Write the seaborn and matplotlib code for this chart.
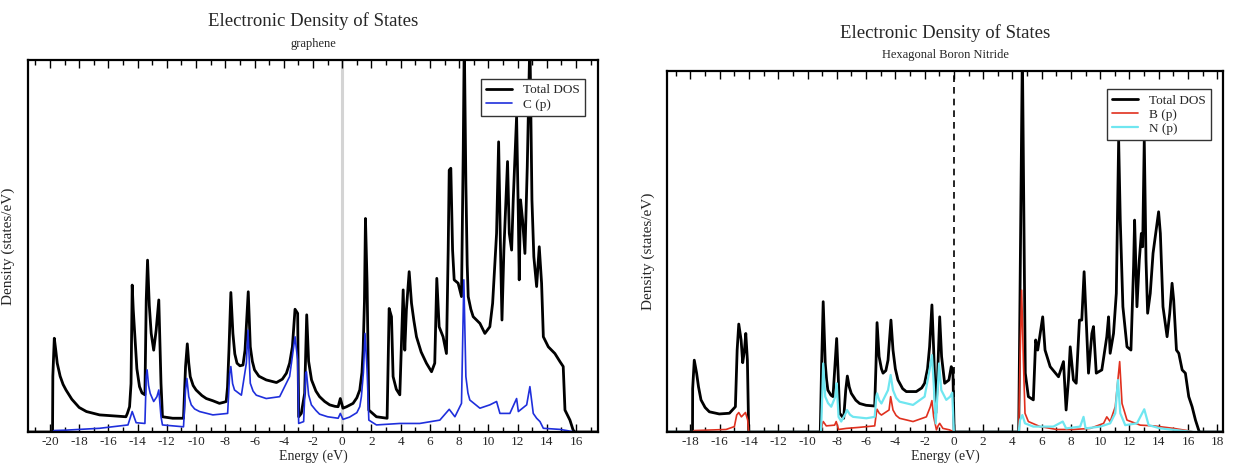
import numpy as np
import pandas as pd
import matplotlib
matplotlib.use("Agg")
import matplotlib.pyplot as plt
from matplotlib.ticker import MultipleLocator
import seaborn as sns

# ---- graphene: energy (eV) and density of states ----
gr_total_e = [-21.5, -19.82, -19.80, -19.7, -19.6, -19.5, -19.3, -19.1, -18.9, -18.5, -18.0, -17.5,
              -16.6, -15.5, -14.8, -14.7, -14.55, -14.45, -14.37, -14.3, -14.2, -14.05, -13.87,
              -13.7, -13.5, -13.41, -13.32, -13.2, -13.07, -12.9, -12.73, -12.55, -12.4, -12.3,
              -11.6, -10.86, -10.72, -10.6, -10.5, -10.4, -10.2, -10.0, -9.6, -9.3, -8.85, -8.4,
              -8.1, -7.94, -7.85, -7.75, -7.62, -7.48, -7.35, -7.2, -7.0, -6.79, -6.65, -6.52,
              -6.43, -6.29, -6.15, -6.0, -5.7, -5.2, -4.5, -4.1, -3.82, -3.6, -3.41, -3.23,
              -3.05, -2.98, -2.8, -2.57, -2.43, -2.3, -2.1, -1.8, -1.55, -1.2, -0.86, -0.5,
              -0.28, -0.13, 0.05, 0.3, 0.74, 1.0, 1.2, 1.35, 1.43, 1.52, 1.59, 1.70, 1.82, 2.34,
              3.07, 3.21, 3.37, 3.48, 3.7, 3.94, 4.05, 4.17, 4.28, 4.39, 4.58, 4.74, 4.9, 5.08,
              5.4, 5.76, 6.11, 6.33, 6.47, 6.63, 6.9, 7.13, 7.25, 7.32, 7.43, 7.55, 7.66, 7.93,
              8.16, 8.28, 8.35, 8.46, 8.55, 8.62, 8.8, 8.96, 9.42, 9.76, 10.1, 10.29, 10.56,
              10.7, 10.83, 10.93, 11.06, 11.31, 11.43, 11.59, 11.7, 11.93, 12.05, 12.11, 12.2,
              12.34, 12.5, 12.66, 12.84, 12.98, 13.11, 13.3, 13.48, 13.64, 13.76, 14.1, 14.55,
              14.9, 15.12, 15.24, 15.58, 15.8, 15.92, 17.5]
gr_total_dos = [0.0, 0.0, 1.5, 2.52, 2.2, 1.85, 1.5, 1.28, 1.13, 0.88, 0.66, 0.55,
                0.46, 0.43, 0.41, 0.5, 0.68, 1.3, 3.95, 3.3, 2.65, 1.7, 1.22,
                1.05, 1.0, 3.55, 4.62, 3.4, 2.65, 2.2, 2.74, 3.55, 1.31, 0.41,
                0.37, 0.37, 1.76, 2.37, 1.85, 1.49, 1.25, 1.13, 0.98, 0.9, 0.84, 0.77,
                0.8, 0.82, 1.2, 2.2, 3.75, 2.65, 2.1, 1.85, 1.78, 1.8, 2.2, 3.1,
                3.77, 2.29, 1.9, 1.67, 1.5, 1.4, 1.33, 1.42, 1.58, 1.85, 2.29, 3.3,
                3.19, 0.41, 0.5, 1.04, 3.15, 1.9, 1.4, 1.1, 0.95, 0.82, 0.73, 0.69,
                0.68, 0.9, 0.64, 0.68, 0.77, 0.92, 1.13, 1.6, 2.2, 3.5, 5.74, 4.0, 0.59, 0.41,
                0.37, 3.32, 3.1, 1.49, 1.15, 1.0, 2.38, 3.82, 2.2, 3.28, 4.31, 3.46, 3.0, 2.56,
                2.15, 1.85, 1.62, 1.85, 4.13, 2.83, 2.56, 2.11, 4.89, 7.04, 7.09, 4.89, 4.09, 4.0,
                3.64, 7.58, 10.6, 6.68, 4.5, 3.64, 3.3, 3.1, 2.92, 2.65, 2.83, 3.46, 5.34,
                7.8, 4.89, 3.01, 4.89, 7.27, 5.34, 4.89, 6.24, 8.48, 5.79, 4.09, 6.24,
                5.7, 4.8, 7.13, 10.6, 6.24, 4.71, 3.91, 4.98, 4.0, 2.56, 2.29, 2.11,
                1.89, 1.76, 0.59, 0.32, 0.05, 0.0, 0.0]

gr_cp_e = [-21.5, -19.82, -19.7, -18.9, -16.6, -14.66, -14.37, -14.1, -13.5, -13.41, -13.35,
           -13.25, -13.14, -12.9, -12.68, -12.55, -12.4, -12.3, -10.86, -10.72, -10.63, -10.5,
           -10.33, -10.1, -9.76, -8.85, -7.84, -7.7, -7.62, -7.5, -7.37, -6.9, -6.56, -6.45,
           -6.29, -6.1, -5.88, -5.2, -4.28, -3.6, -3.23, -3.05, -2.98, -2.64, -2.5, -2.45, -2.3,
           -2.11, -1.8, -1.55, -1.0, -0.28, -0.13, 0.05, 0.5, 1.0, 1.2, 1.31, 1.45, 1.56, 1.7,
           1.82, 2.34, 3.94, 5.3, 6.68, 7.32, 7.71, 8.16, 8.32, 8.46, 8.6, 8.73, 9.42, 10.1,
           10.56, 10.79, 11.47, 11.93, 12.05, 12.62, 12.84, 13.07, 13.3, 13.53, 13.76, 14.9,
           15.35, 15.92, 17.5]
gr_cp_dos = [0.0, 0.0, 0.04, 0.05, 0.1, 0.19, 0.55, 0.25, 0.23, 1.49, 1.67,
             1.25, 1.04, 0.82, 0.95, 1.13, 0.41, 0.19, 0.14, 1.13, 1.44, 0.95,
             0.73, 0.62, 0.55, 0.46, 0.5, 1.58, 1.76, 1.3, 1.13, 0.99, 1.85, 2.74,
             1.31, 1.1, 0.99, 0.9, 0.95, 1.49, 2.56, 1.94, 0.23, 0.28, 1.58, 1.62, 1.0,
             0.73, 0.58, 0.48, 0.41, 0.37, 0.5, 0.34, 0.4, 0.52, 0.68, 0.95, 1.6, 2.65, 1.67,
             0.32, 0.19, 0.23, 0.23, 0.32, 0.61, 0.41, 0.77, 4.09, 1.49, 1.05, 0.86, 0.64, 0.73,
             0.82, 0.5, 0.5, 0.9, 0.55, 0.73, 1.22, 0.5, 0.37, 0.28, 0.1, 0.07,
             0.04, 0.0, 0.0]

# ---- hexagonal boron nitride ----
bn_total_e = [-19.6, -17.86, -17.85, -17.74, -17.58, -17.45, -17.28, -17.0, -16.71, -16.03, -15.34,
              -14.93, -14.81, -14.7, -14.54, -14.43, -14.31, -14.22, -14.11, -14.02, -9.13, -9.04,
              -8.93, -8.79, -8.7, -8.61, -8.4, -8.26, -8.1, -8.01, -7.9, -7.81, -7.53, -7.39,
              -7.28, -7.15, -7.01, -6.7, -6.44, -6.0, -5.41, -5.32, -5.25, -5.11, -4.95, -4.84,
              -4.65, -4.5, -4.3, -4.16, -4.0, -3.82, -3.5, -3.25, -2.57, -2.2, -2.0, -1.8, -1.66,
              -1.5, -1.38, -1.24, -1.13, -0.97, -0.84, -0.63, -0.34, -0.18, -0.07, 0.02, 4.43,
              4.52, 4.68, 4.79, 4.88, 5.09, 5.43, 5.59, 5.73, 6.07, 6.23, 6.58, 7.15, 7.49, 7.67,
              7.83, 7.95, 8.17, 8.36, 8.58, 8.74, 8.9, 9.04, 9.2, 9.43, 9.54, 9.73, 10.11, 10.45,
              10.57, 10.68, 10.91, 11.1, 11.26, 11.37, 11.55, 11.83, 12.1, 12.28, 12.35, 12.51,
              12.67, 12.81, 12.9, 13.01, 13.13, 13.24, 13.42, 13.61, 13.99, 14.11, 14.29, 14.57,
              14.75, 14.91, 15.02, 15.21, 15.37, 15.6, 15.82, 16.05, 16.28, 16.51, 16.74, 16.8,
              18.4]
bn_total_dos = [0.0, 0.0, 1.2, 1.99, 1.63, 1.25, 0.89, 0.68, 0.56, 0.5, 0.52,
                0.7, 2.27, 2.99, 2.55, 1.92, 2.27, 2.73, 1.99, 0.0, 0.0, 1.81,
                3.61, 1.9, 1.45, 1.16, 1.02, 0.98, 1.99, 2.59, 1.53, 0.52, 0.38, 1.16,
                1.55, 1.25, 1.07, 0.88, 0.79, 0.74, 0.72, 1.9, 3.03, 2.09, 1.75, 1.63,
                1.7, 1.99, 3.1, 2.27, 1.75, 1.44, 1.2, 1.12, 1.12, 1.22, 1.35, 1.75, 2.36,
                3.52, 2.27, 0.52, 1.35, 3.19, 2.09, 1.35, 1.44, 1.81, 1.72, 0.0, 0.0,
                3.84, 10.6, 5.69, 1.63, 0.98, 0.89, 2.55, 2.27, 3.19, 2.27, 1.81, 1.53, 1.95, 0.61,
                1.44, 2.36, 1.44, 1.35, 3.1, 3.1, 4.44, 3.1, 1.63, 2.73, 2.92, 1.63, 1.72, 2.64,
                3.19, 2.18, 2.73, 3.84, 8.09, 5.87, 3.47, 2.36, 2.27, 4.58, 5.87, 3.47,
                4.76, 5.5, 5.13, 8.09, 4.76, 3.29, 3.84, 4.95, 6.1, 5.5, 3.47, 2.64,
                3.29, 4.12, 3.66, 2.27, 2.18, 1.72, 1.63, 0.98, 0.7, 0.33, 0.04, 0.0,
                0.0]

bn_bp_e = [-19.6, -17.85, -17.74, -15.57, -15.0, -14.84, -14.7, -14.52, -14.24, -14.09, -14.02,
           -9.08, -8.99, -8.93, -8.72, -8.15, -8.04, -7.88, -7.35, -6.44, -5.41, -5.3, -5.25,
           -5.1, -4.95, -4.43, -4.32, -4.16, -3.95, -3.71, -2.79, -1.88, -1.61, -1.5, -1.38,
           -1.19, -1.08, -0.97, -0.75, -0.3, 0.0, 4.43, 4.52, 4.63, 4.75, 4.86, 5.09, 5.89,
           7.03, 8.17, 9.32, 10.23, 10.45, 10.68, 11.03, 11.33, 11.49, 11.83, 12.74, 13.65,
           15.02, 15.94, 16.4, 18.4]
bn_bp_dos = [0.0, 0.0, 0.04, 0.07, 0.15, 0.47, 0.54, 0.42, 0.54, 0.33, 0.0,
             0.0, 0.22, 0.29, 0.17, 0.19, 0.29, 0.07, 0.1, 0.13, 0.17, 0.52, 0.63,
             0.52, 0.47, 0.61, 0.98, 0.61, 0.46, 0.38, 0.29, 0.42, 0.7, 0.87, 0.42,
             0.06, 0.17, 0.24, 0.1, 0.06, 0.0, 0.0, 1.99, 3.93, 1.99, 0.52, 0.29, 0.15,
             0.07, 0.07, 0.1, 0.24, 0.42, 0.29, 0.7, 1.95, 0.79, 0.33, 0.19, 0.17,
             0.1, 0.04, 0.0, 0.0]

bn_np_e = [-19.6, -9.08, -8.99, -8.93, -8.79, -8.6, -8.38, -8.1, -8.01, -7.88, -7.7, -7.39,
           -7.3, -7.1, -6.89, -5.98, -5.41, -5.3, -5.25, -5.1, -4.95, -4.5, -4.32, -4.16,
           -3.95, -3.71, -2.79, -2.0, -1.66, -1.5, -1.38, -1.24, -1.13, -1.01, -0.86, -0.52,
           -0.25, -0.11, 0.0, 4.43, 4.52, 4.68, 4.86, 5.43, 6.8, 7.44, 7.67, 8.63, 8.86, 9.0,
           10.0, 10.68, 11.03, 11.21, 11.37, 11.71, 12.51, 13.01, 13.31, 14.11, 15.02, 15.94,
           16.4, 18.4]
bn_np_dos = [0.0, 0.0, 1.07, 1.9, 0.98, 0.8, 0.7, 0.98, 1.35, 0.42, 0.29, 0.52,
             0.61, 0.48, 0.42, 0.38, 0.42, 0.98, 1.07, 0.88, 0.79, 1.16, 1.58, 1.16,
             0.95, 0.84, 0.75, 0.98, 1.72, 2.13, 1.35, 0.24, 0.98, 1.9, 1.16, 0.89,
             0.98, 1.09, 0.0, 0.0, 0.33, 0.47, 0.24, 0.15, 0.15, 0.29, 0.1, 0.15, 0.42, 0.1,
             0.15, 0.24, 0.52, 1.44, 0.52, 0.19, 0.24, 0.63, 0.19, 0.1, 0.06, 0.02,
             0.0, 0.0]

xticks_gr = list(range(-20, 17, 2))
xticks_bn = list(range(-18, 19, 2))

sns.set_theme(style="white")
plt.rcParams["font.family"] = ["Liberation Serif", "DejaVu Serif"]
plt.rcParams["axes.unicode_minus"] = False
plt.rcParams["axes.linewidth"] = 1.6
plt.rcParams["axes.edgecolor"] = "black"

fig = plt.figure(figsize=(12.33, 4.68), dpi=100)
ax1 = fig.add_axes([0.0227, 0.0769, 0.4623, 0.7949])
ax2 = fig.add_axes([0.541, 0.0769, 0.451, 0.7714])


def curve(ax, e, d, color, lw, label):
    df = pd.DataFrame({"Energy": e, "DOS": d})
    sns.lineplot(data=df, x="Energy", y="DOS", ax=ax, color=color, lw=lw,
                 label=label, estimator=None, sort=False)


# graphene panel
ax1.axvline(0, color="#d4d4d4", lw=2.2, zorder=0)
curve(ax1, gr_total_e, gr_total_dos, "black", 2.0, "Total DOS")
curve(ax1, gr_cp_e, gr_cp_dos, "#1f2fdc", 1.2, "C (p)")
ax1.set_xlim(-21.5, 17.5)
ax1.set_ylim(0, 10)
ax1.set_xticks(xticks_gr)

# h-BN panel
ax2.axvline(0, color="black", lw=1.2, ls=(0, (4, 3)), zorder=0)
curve(ax2, bn_total_e, bn_total_dos, "black", 2.0, "Total DOS")
curve(ax2, bn_bp_e, bn_bp_dos, "#e0301e", 1.2, "B (p)")
curve(ax2, bn_np_e, bn_np_dos, "#6fe6f0", 1.6, "N (p)")
ax2.set_xlim(-19.6, 18.4)
ax2.set_ylim(0, 10)
ax2.set_xticks(xticks_bn)

for ax, title, sub, leg_anchor in [
    (ax1, "Electronic Density of States", "graphene", (0.977, 0.949)),
    (ax2, "Electronic Density of States", "Hexagonal Boron Nitride", (0.978, 0.95)),
]:
    ax.set_yticks([])
    ax.xaxis.set_minor_locator(MultipleLocator(1))
    ax.tick_params(axis="x", which="both", direction="in", top=True, bottom=True,
                   labelsize=9.5, pad=3, color="black")
    ax.tick_params(axis="x", which="major", length=6, width=1.0)
    ax.tick_params(axis="x", which="minor", length=3.5, width=1.0)
    ax.set_xlabel("Energy (eV)", fontsize=10, labelpad=1)
    ax.set_ylabel("Density (states/eV)", fontsize=11)
    ax.yaxis.set_label_coords(-0.022, 0.5)
    ax.text(0.5, 1.105, title, transform=ax.transAxes, ha="center", va="center",
            fontsize=13.5)
    ax.text(0.5, 1.043, sub, transform=ax.transAxes, ha="center", va="center",
            fontsize=9)
    for s in ax.spines.values():
        s.set_visible(True)
        s.set_color("black")
        s.set_linewidth(1.6)
    leg = ax.legend(loc="upper right", bbox_to_anchor=leg_anchor, borderaxespad=0,
                    fontsize=9.5, frameon=True, fancybox=False, framealpha=1,
                    edgecolor="#333333", handlelength=2.0, handletextpad=0.8,
                    labelspacing=0.15, borderpad=0.4)
    leg.get_frame().set_linewidth(1.0)

fig.savefig("out.png", dpi=100)
